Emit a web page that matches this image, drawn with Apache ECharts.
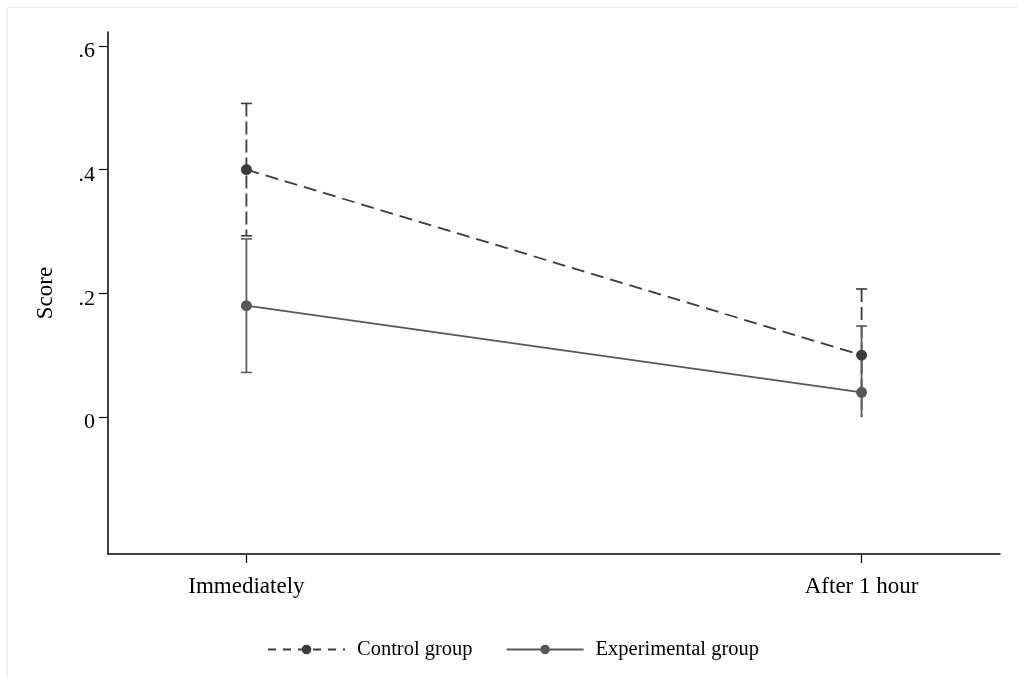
<!DOCTYPE html>
<html>
<head>
<meta charset="utf-8">
<style>
html,body{margin:0;padding:0;background:#fff;}
#chart{width:1018px;height:678px;}
</style>
<script src="https://cdn.jsdelivr.net/npm/echarts@6/dist/echarts.min.js"></script>
</head>
<body>
<div id="chart"></div>
<script>
// ---- data ----
var categories = ['Immediately', 'After 1 hour'];
var categoryX = [1, 2];
var controlMean = [0.40, 0.10];
var controlUpper = [0.507, 0.207];
var controlLower = [0.293, 0.0];
var experimentalMean = [0.18, 0.04];
var experimentalUpper = [0.288, 0.147];
var experimentalLower = [0.072, 0.0];
var yTickValues = [0, 0.2, 0.4, 0.6];
var yTickLabels = ['0', '.2', '.4', '.6'];

var FONT = '"Liberation Serif", "Times New Roman", serif';
var controlColor = '#3c3c3c';
var expColor = '#585858';

function pairs(xs, ys) { return xs.map(function (x, i) { return [x, ys[i]]; }); }
function errData(xs, lo, hi) { return xs.map(function (x, i) { return [x, lo[i], hi[i]]; }); }

function errRender(color, dashed) {
  return function (params, api) {
    var x = api.value(0), lo = api.value(1), hi = api.value(2);
    var pHi = api.coord([x, hi]);
    var pLo = api.coord([x, lo]);
    var half = 5.5;
    var style = { stroke: color, lineWidth: 1.8, fill: null };
    if (dashed) style.lineDash = [13, 5];
    var children = [
      { type: 'line', shape: { x1: pHi[0], y1: pHi[1], x2: pLo[0], y2: pLo[1] }, style: style },
      { type: 'line', shape: { x1: pHi[0] - half, y1: pHi[1], x2: pHi[0] + half, y2: pHi[1] },
        style: { stroke: color, lineWidth: 1.6 } }
    ];
    if (lo > 0) {
      children.push({ type: 'line', shape: { x1: pLo[0] - half, y1: pLo[1], x2: pLo[0] + half, y2: pLo[1] },
        style: { stroke: color, lineWidth: 1.6 } });
    }
    return { type: 'group', children: children };
  };
}

var chart = echarts.init(document.getElementById('chart'), null, { renderer: 'canvas' });
chart.setOption({
  backgroundColor: '#fff',
  animation: false,
  graphic: [{
    type: 'rect', shape: { x: 7.5, y: 7.5, width: 1040, height: 700 },
    style: { fill: null, stroke: '#ececec', lineWidth: 1 }, silent: true, z: -10
  }],
  grid: { left: 108, right: 18, top: 32, bottom: 124, containLabel: false },
  xAxis: {
    type: 'value', min: 0.775, max: 2.225,
    splitLine: { show: false },
    axisLine: { show: true, onZero: false, lineStyle: { color: '#000', width: 1.5 } },
    axisTick: { show: true, length: 9, lineStyle: { color: '#000', width: 1.2 }, customValues: categoryX },
    axisLabel: {
      customValues: categoryX, margin: 21, color: '#000', fontFamily: FONT, fontSize: 23,
      formatter: function (v) { var i = categoryX.indexOf(v); return i >= 0 ? categories[i] : ''; }
    }
  },
  yAxis: {
    type: 'value', min: -0.2215, max: 0.6225,
    name: 'Score', nameLocation: 'middle', nameGap: 51, nameRotate: 90,
    nameTextStyle: { color: '#000', fontFamily: FONT, fontSize: 23 },
    splitLine: { show: false },
    axisLine: { show: true, onZero: false, lineStyle: { color: '#000', width: 1.5 } },
    axisTick: { show: true, length: 9, lineStyle: { color: '#000', width: 1.2 }, customValues: yTickValues },
    axisLabel: {
      customValues: yTickValues, margin: 13, color: '#000', fontFamily: FONT, fontSize: 22,
      rich: { t: { fontFamily: FONT, fontSize: 22, color: '#000', padding: [11, 0, 0, 0] } },
      formatter: function (v) {
        for (var i = 0; i < yTickValues.length; i++) if (Math.abs(yTickValues[i] - v) < 1e-9) return '{t|' + yTickLabels[i] + '}';
        return '';
      }
    }
  },
  legend: {
    bottom: 13, left: 262,
    itemWidth: 77, itemHeight: 12, itemGap: 33,
    textStyle: { color: '#000', fontFamily: FONT, fontSize: 20.5, padding: [0, 0, 0, 7] },
    data: [
      { name: 'Control group', lineStyle: { type: [8, 7] } },
      { name: 'Experimental group' }
    ]
  },
  series: [
    {
      name: 'Control group err', type: 'custom', data: errData(categoryX, controlLower, controlUpper),
      renderItem: errRender(controlColor, true), encode: { x: 0, y: [1, 2] }, z: 2, silent: true
    },
    {
      name: 'Experimental group err', type: 'custom', data: errData(categoryX, experimentalLower, experimentalUpper),
      renderItem: errRender('#5e5e5e', false), encode: { x: 0, y: [1, 2] }, z: 2, silent: true
    },
    {
      name: 'Control group', type: 'line', data: pairs(categoryX, controlMean),
      symbol: 'circle', symbolSize: 11, color: controlColor,
      itemStyle: { color: controlColor },
      lineStyle: { color: controlColor, width: 1.8, type: [13, 7] }, z: 3
    },
    {
      name: 'Experimental group', type: 'line', data: pairs(categoryX, experimentalMean),
      symbol: 'circle', symbolSize: 11, color: expColor,
      itemStyle: { color: expColor },
      lineStyle: { color: expColor, width: 1.8 }, z: 3
    }
  ]
});
</script>
</body>
</html>
